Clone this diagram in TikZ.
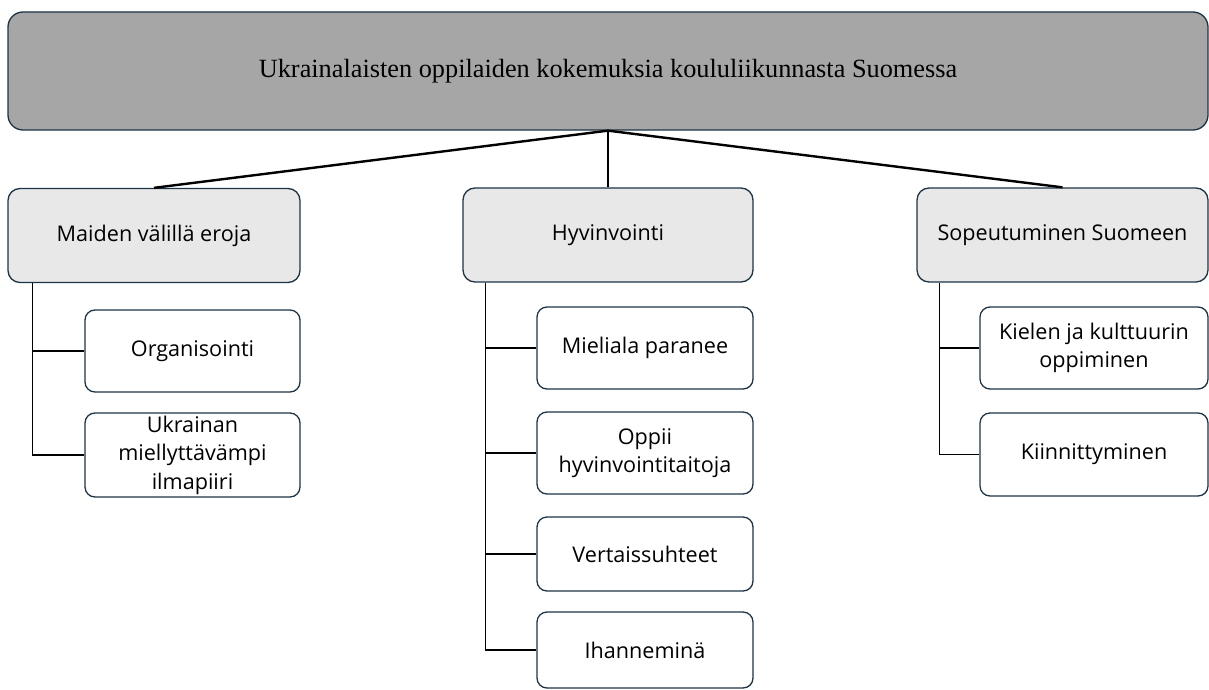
\documentclass[tikz,border=0pt]{standalone}
\usepackage{fontspec}
\setmainfont{Liberation Serif}
\newfontfamily\boxfont{Open Sans}
\begin{document}
\begin{tikzpicture}[x=1pt,y=-1pt,
  rootbox/.style={draw=borderc, line width=1.3pt, fill=rootgray, rounded corners=15pt, minimum width=1200pt, minimum height=118pt, font=\fontsize{26.3}{30}\selectfont},
  mainbox/.style={draw=borderc, line width=1.3pt, fill=maingray, rounded corners=12pt, minimum height=94pt, align=center, font=\boxfont\fontsize{21.6}{28.5}\selectfont},
  subbox/.style={draw=borderc, line width=1.3pt, fill=white, rounded corners=10pt, align=center, inner sep=0pt, font=\boxfont\fontsize{21.6}{28.5}\selectfont},
  toplink/.style={line width=2.4pt, black},
  elbow/.style={line width=1.3pt, black}]
\definecolor{borderc}{HTML}{1E3445}
\definecolor{rootgray}{HTML}{A6A6A6}
\definecolor{maingray}{HTML}{E8E8E8}
\useasboundingbox (0,0) rectangle (1209,690);
\node[rootbox] (root) at (608,71) {Ukrainalaisten oppilaiden kokemuksia koululiikunnasta Suomessa};
\node[mainbox, minimum width=292pt] (m1) at (154,235.5) {Maiden välillä eroja};
\node[mainbox, minimum width=290pt] (m2) at (608,235) {Hyvinvointi};
\node[mainbox, minimum width=291pt] (m3) at (1062.5,235) {Sopeutuminen Suomeen};
\node[subbox, minimum width=215pt, minimum height=82pt] (a1) at (192.5,351) {Organisointi};
\node[subbox, minimum width=215pt, minimum height=84pt] (a2) at (192.5,455) {Ukrainan\\miellyttävämpi\\ilmapiiri};
\node[subbox, minimum width=216pt, minimum height=82pt] (b1) at (645,348) {Mieliala paranee};
\node[subbox, minimum width=216pt, minimum height=82pt] (b2) at (645,453) {Oppii\\hyvinvointitaitoja};
\node[subbox, minimum width=216pt, minimum height=74pt] (b3) at (645,554) {Vertaissuhteet};
\node[subbox, minimum width=216pt, minimum height=76pt] (b4) at (645,650) {Ihanneminä};
\node[subbox, minimum width=228pt, minimum height=82pt] (c1) at (1094,348) {Kielen ja kulttuurin\\oppiminen};
\node[subbox, minimum width=228pt, minimum height=83pt] (c2) at (1094,454.5) {Kiinnittyminen};
\draw[toplink] (root.south) -- (m1.north);
\draw[toplink] (root.south) -- (m2.north);
\draw[toplink] (root.south) -- (m3.north);
\draw[elbow] ([xshift=25pt]m1.south west) |- (a1.west);
\draw[elbow] ([xshift=25pt]m1.south west) |- (a2.west);
\draw[elbow] ([xshift=23pt]m2.south west) |- (b1.west);
\draw[elbow] ([xshift=23pt]m2.south west) |- (b2.west);
\draw[elbow] ([xshift=23pt]m2.south west) |- (b3.west);
\draw[elbow] ([xshift=23pt]m2.south west) |- (b4.west);
\draw[elbow] ([xshift=23pt]m3.south west) |- (c1.west);
\draw[elbow] ([xshift=23pt]m3.south west) |- (c2.west);
\end{tikzpicture}
\end{document}
